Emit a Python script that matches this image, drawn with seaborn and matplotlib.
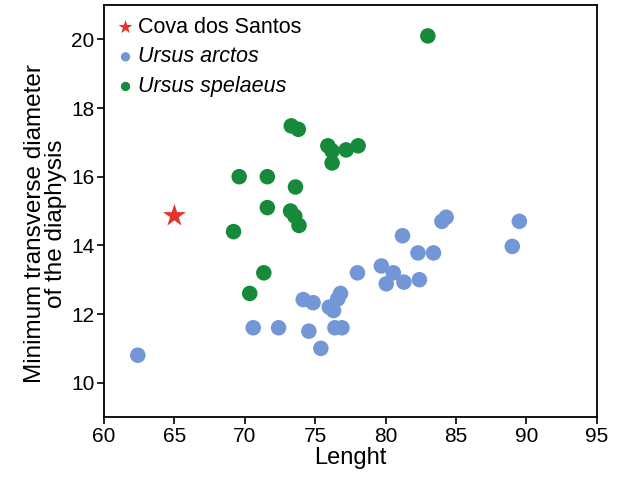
"""
Diaphysis diameter vs length: Cova dos Santos specimen against Ursus arctos / U. spelaeus.
"""

import numpy as np
import pandas as pd
import matplotlib
matplotlib.use("Agg")
import matplotlib.pyplot as plt
import seaborn as sns

# Cova dos Santos specimen
santos_x = [65.0]
santos_y = [14.86]

# Ursus arctos
arctos_x = [62.4, 70.6, 72.4, 74.55, 75.4, 74.15, 74.85, 76.0, 76.3, 76.6,
            76.8, 76.4, 76.9, 78.0, 79.7, 80.55, 80.05, 81.3, 82.4, 81.2,
            82.3, 83.4, 84.0, 84.3, 89.0, 89.5]
arctos_y = [10.8, 11.6, 11.6, 11.5, 11.0, 12.42, 12.33, 12.2, 12.1, 12.44,
            12.6, 11.6, 11.6, 13.2, 13.4, 13.2, 12.88, 12.93, 13.0, 14.28,
            13.78, 13.78, 14.7, 14.82, 13.97, 14.7]

# Ursus spelaeus
spelaeus_x = [83.0, 73.3, 73.8, 75.9, 76.2, 77.2, 78.05, 76.2, 69.6, 71.6,
              73.6, 71.6, 73.25, 73.55, 73.85, 69.2, 71.35, 70.35]
spelaeus_y = [20.1, 17.48, 17.38, 16.9, 16.75, 16.78, 16.9, 16.4, 16.0, 16.0,
              15.7, 15.1, 15.0, 14.85, 14.58, 14.4, 13.2, 12.6]

RED = "#E5332A"
BLUE = "#7296D6"
GREEN = "#168A3A"

sns.set_style("white")
plt.rcParams['font.family'] = ['Liberation Sans', 'DejaVu Sans']
plt.rcParams['text.color'] = 'black'
plt.rcParams['axes.labelcolor'] = 'black'

fig = plt.figure(figsize=(6.21, 4.83), dpi=100)
ax = fig.add_axes([0.1675, 0.1366, 0.7935, 0.853])

df_santos = pd.DataFrame({"x": santos_x, "y": santos_y})
df_arctos = pd.DataFrame({"x": arctos_x, "y": arctos_y})
df_spel = pd.DataFrame({"x": spelaeus_x, "y": spelaeus_y})

sns.scatterplot(data=df_santos, x="x", y="y", marker="*", s=300, color=RED,
                edgecolor="none", label="Cova dos Santos", ax=ax, zorder=3)
sns.scatterplot(data=df_arctos, x="x", y="y", marker="o", s=125, color=BLUE,
                edgecolor="none", label="Ursus arctos", ax=ax, zorder=3)
sns.scatterplot(data=df_spel, x="x", y="y", marker="o", s=125, color=GREEN,
                edgecolor="none", label="Ursus spelaeus", ax=ax, zorder=3)

ax.set_xlim(60, 95)
ax.set_ylim(9, 21)
ax.set_xticks(np.arange(60, 96, 5))
ax.set_yticks(np.arange(10, 21, 2))
ax.tick_params(axis="both", which="both", direction="out", length=5, width=1.2,
               labelsize=15, pad=2, bottom=True, left=True, colors="black")

for sp in ax.spines.values():
    sp.set_color("black")
    sp.set_linewidth(1.3)

ax.set_xlabel("Lenght", fontsize=17, labelpad=1)
ax.set_ylabel("Minimum transverse diameter\nof the diaphysis", fontsize=17.5,
              linespacing=0.95, labelpad=3)
ax.yaxis.label.set_y(0.47)

# Легенда без рамки, виды курсивом
leg = ax.legend(loc="upper left", frameon=False, fontsize=15.5,
                handletextpad=0.15, borderaxespad=0.0, borderpad=0.55,
                labelspacing=0.4, handlelength=0.9)
sizes = [110, 45, 45]
for h, s in zip(leg.legend_handles, sizes):
    h.set_sizes([s])
for txt in leg.get_texts():
    txt.set_color("black")
for txt in leg.get_texts()[1:]:
    txt.set_fontstyle("italic")

plt.savefig("out.png", dpi=100)
